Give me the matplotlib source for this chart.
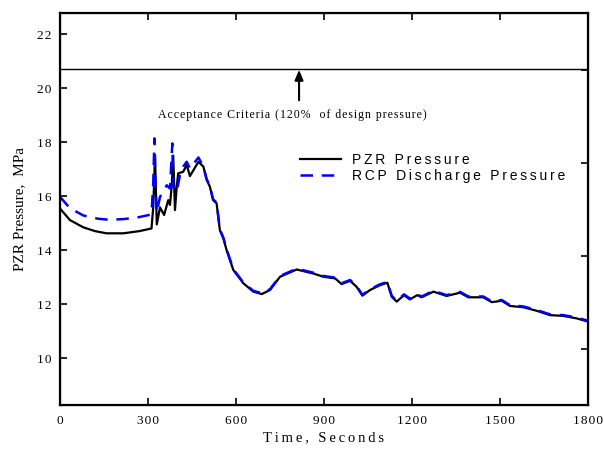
import matplotlib
matplotlib.use("Agg")
import matplotlib.pyplot as plt
import numpy as np

# PZR pressure (solid black)
pzr_t = [0, 34, 80, 120, 159, 216, 270, 312, 318, 324, 330, 341, 355, 369, 375,
         381, 386, 392, 398, 403, 420, 432, 443, 472, 489, 500, 511, 522, 534,
         545, 557, 568, 591, 625, 659, 688, 716, 750, 807, 864, 898, 938, 960,
         989, 1011, 1031, 1057, 1091, 1116, 1131, 1148, 1173, 1193, 1218, 1233,
         1273, 1318, 1364, 1392, 1443, 1472, 1506, 1534, 1580, 1625, 1670, 1716,
         1761, 1800]
pzr_p = [15.54, 15.11, 14.84, 14.70, 14.62, 14.62, 14.70, 14.80, 15.6, 17.5, 14.95,
         15.58, 15.30, 15.85, 15.67, 16.40, 17.50, 15.48, 16.35, 16.84, 16.90,
         17.15, 16.74, 17.27, 17.09, 16.60, 16.35, 15.85, 15.73, 14.74, 14.43,
         14.00, 13.26, 12.77, 12.46, 12.37, 12.52, 13.01, 13.28, 13.13, 13.01,
         12.95, 12.74, 12.86, 12.64, 12.31, 12.52, 12.70, 12.79, 12.27, 12.09,
         12.33, 12.17, 12.33, 12.25, 12.46, 12.30, 12.42, 12.25, 12.25, 12.07,
         12.12, 11.93, 11.88, 11.75, 11.59, 11.56, 11.47, 11.35]

# RCP discharge pressure (dashed blue): its own early part, then it rides on PZR
rcp_t_early = [0, 34, 80, 130, 170, 220, 270, 312, 318, 322, 326, 330, 341, 352,
               364, 375, 383, 386, 398, 409, 420, 432, 443, 472, 489]
rcp_p_early = [15.97, 15.55, 15.28, 15.16, 15.12, 15.15, 15.22, 15.32, 16.5, 18.14,
               16.2, 15.40, 15.97, 16.16, 16.40, 16.28, 17.95, 16.35, 16.16, 16.78,
               17.09, 17.27, 17.02, 17.43, 17.09]
rcp_t = rcp_t_early + pzr_t[25:]
rcp_p = rcp_p_early + [p + 0.03 for p in pzr_p[25:]]

x_ticks = [0, 300, 600, 900, 1200, 1500, 1800]
y_ticks = [10, 12, 14, 16, 18, 20, 22]
psi_ticks = [1500, 2000, 2500, 3000]
accept_p = 20.70
MPA_TO_PSI = 145.038


def spaced(s, sep="\u200a"):
    return sep.join(s)


serif = "Liberation Serif"
sans = "Liberation Sans"

fig = plt.figure(figsize=(6.04, 4.5), dpi=100)
ax = fig.add_axes([0.0993, 0.10, 0.8742, 0.871])

ax.plot(pzr_t, pzr_p, color="black", lw=1.6,
        label=spaced("PZR Pressure", "\u2009"))
ax.plot(rcp_t, rcp_p, color="#0000ff", lw=1.8, ls=(0, (5, 3.5)),
        label=spaced("RCP Discharge Pressure", "\u2009"))
ax.axhline(accept_p, color="black", lw=1.0)

ax.annotate("", xy=(815, accept_p - 0.02), xytext=(815, 19.55),
            arrowprops=dict(arrowstyle="-|>,head_width=0.25,head_length=0.6",
                            color="black", lw=1.5, shrinkA=0, shrinkB=0))
ax.text(792, 19.0, spaced("Acceptance Criteria (120%  of design pressure)"),
        ha="center", va="center", fontsize=8.5, family=serif)

ax.set_xlim(0, 1800)
ax.set_ylim(8.26, 22.78)
ax.set_xticks(x_ticks)
ax.set_yticks(y_ticks)
ax.set_xticklabels([spaced(str(v)) for v in x_ticks], family=serif, fontsize=9.5)
ax.set_yticklabels([spaced(str(v)) for v in y_ticks], family=serif, fontsize=9.5)
ax.tick_params(direction="in", length=5, width=1.2, top=True, pad=6)
ax.tick_params(axis="x", pad=7)
for sp in ax.spines.values():
    sp.set_linewidth(1.6)

ax.set_xlabel(spaced("Time, Seconds", "\u2009"), family=serif, fontsize=10.5,
              labelpad=3)
ax.set_ylabel("PZR Pressure,  MPa", family=serif, fontsize=11, labelpad=8)

# right-hand ticks are in psi, unlabeled
ax2 = ax.twinx()
ax2.set_ylim(8.26 * MPA_TO_PSI, 22.78 * MPA_TO_PSI)
ax2.set_yticks(psi_ticks)
ax2.set_yticklabels([])
ax2.tick_params(direction="in", length=5, width=1.2)

leg = ax.legend(loc="upper left", bbox_to_anchor=(0.43, 0.675), frameon=False,
                prop={"family": sans, "size": 10}, handlelength=3.0,
                handletextpad=0.8, labelspacing=0.15)

fig.savefig("out.png", dpi=100)
